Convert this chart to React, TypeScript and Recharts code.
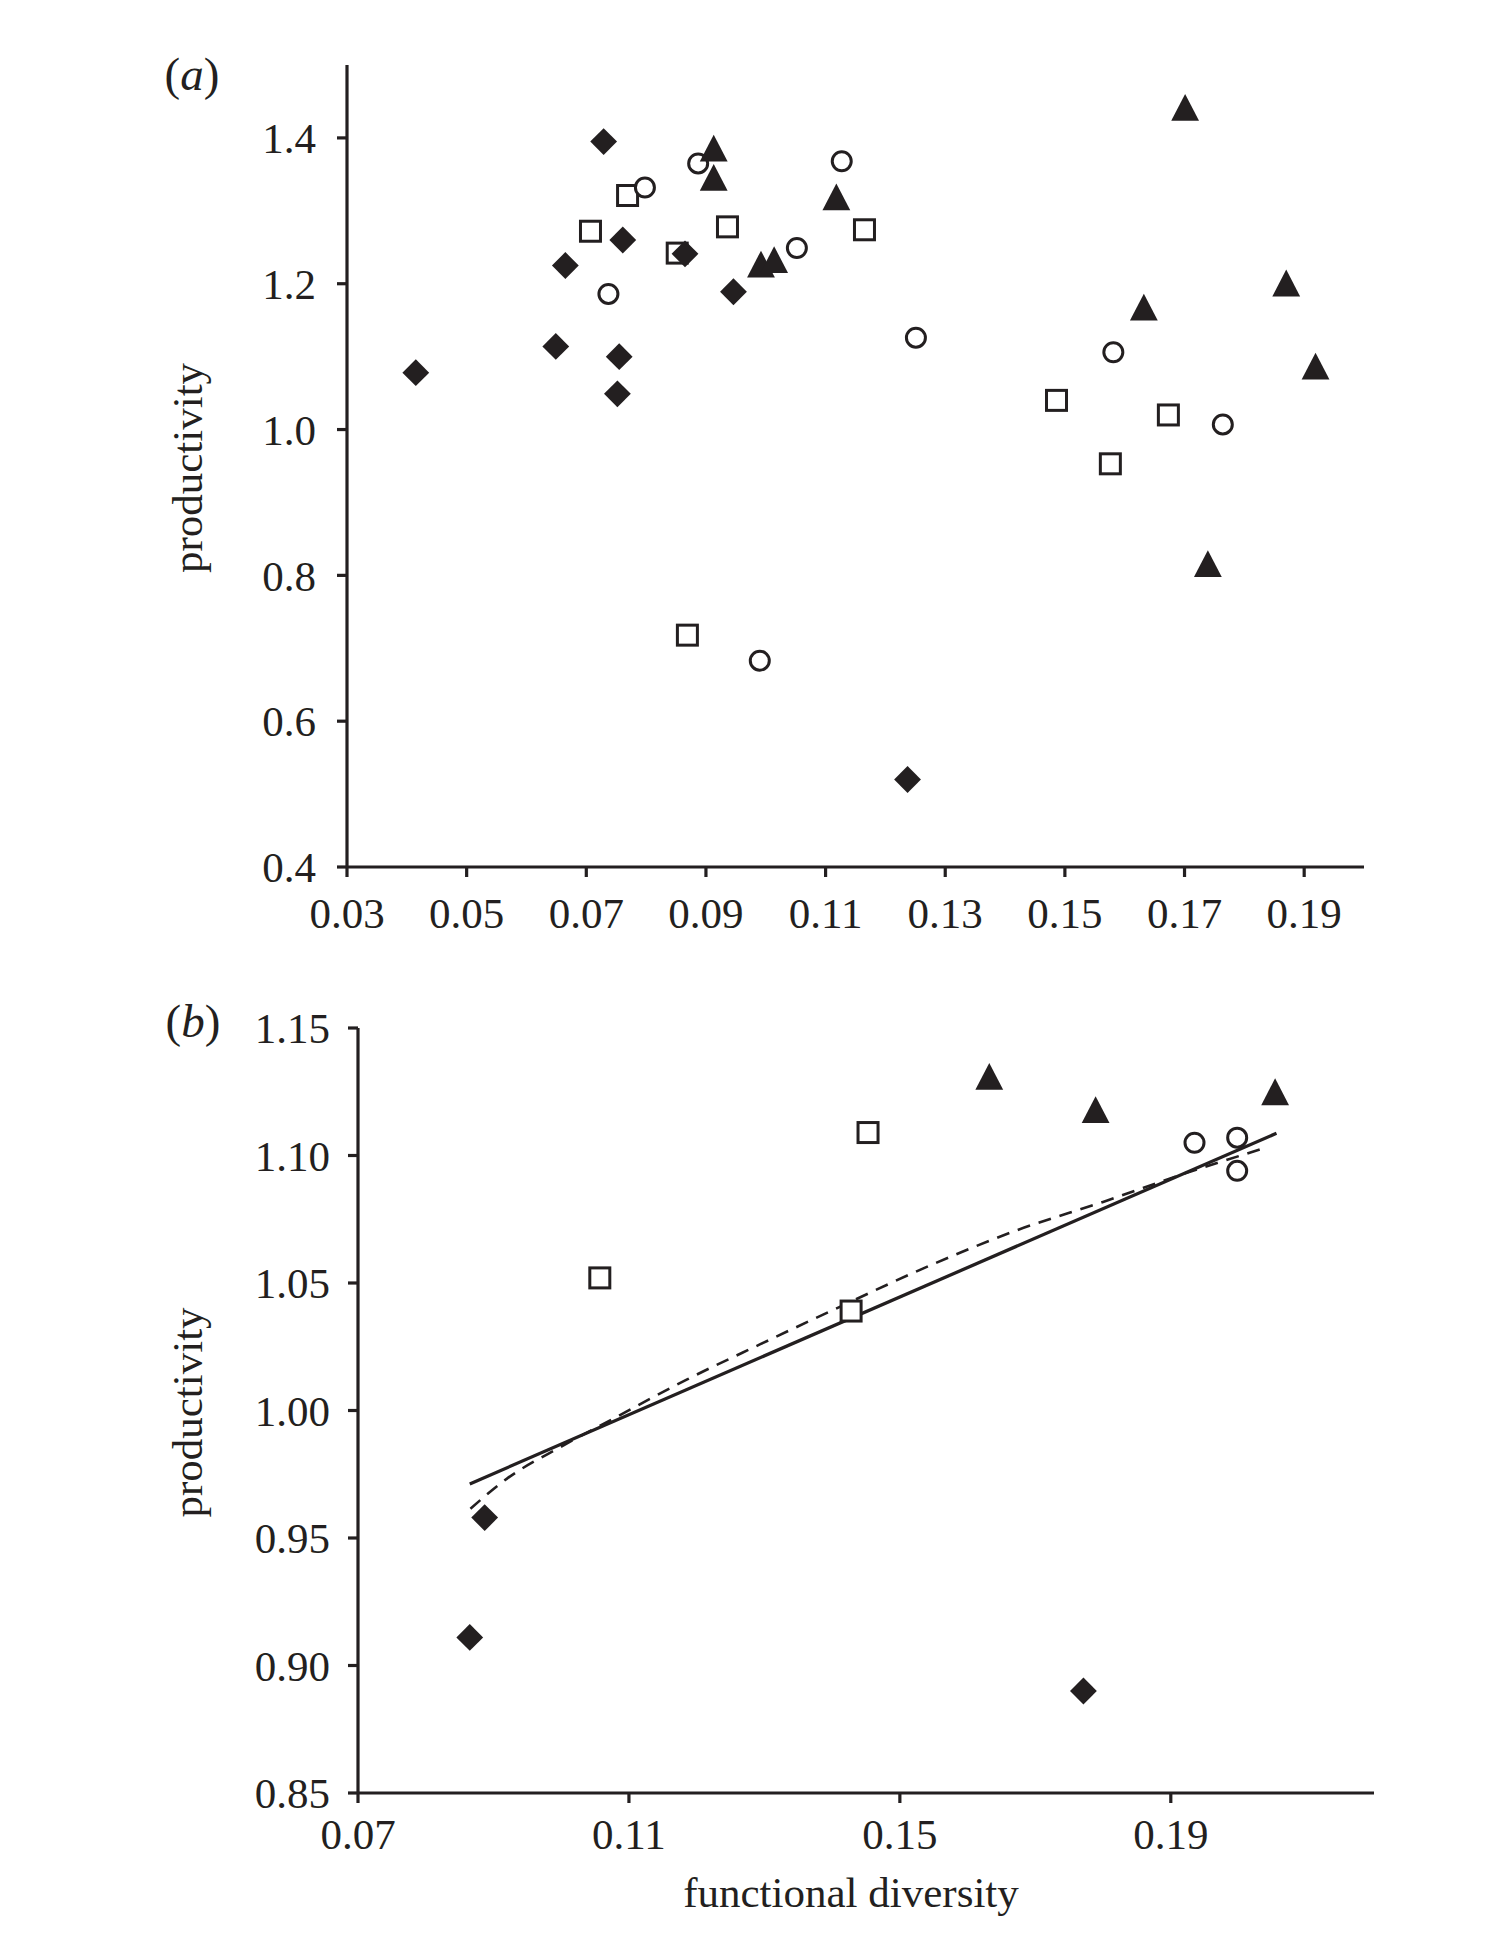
import React from "react";
import {
  ScatterChart,
  ComposedChart,
  Scatter,
  Line,
  XAxis,
  YAxis,
  Label,
} from "recharts";

const INK = "#231f20";
const FONT = '"Liberation Serif", "Times New Roman", Times, serif';

// ---- panel (a): all plots ----
const aXTicks = [0.03, 0.05, 0.07, 0.09, 0.11, 0.13, 0.15, 0.17, 0.19];
const aYTicks = [0.4, 0.6, 0.8, 1.0, 1.2, 1.4];

const aDiamondFd = [0.0415, 0.0649, 0.0665, 0.0729, 0.0752, 0.0755, 0.0761, 0.0865, 0.0946, 0.1237];
const aDiamondProd = [1.078, 1.114, 1.225, 1.395, 1.049, 1.1, 1.26, 1.241, 1.189, 0.52];

const aSquareFd = [0.0707, 0.0769, 0.0852, 0.0869, 0.0936, 0.1165, 0.1486, 0.1576, 0.1673];
const aSquareProd = [1.272, 1.321, 1.242, 0.718, 1.278, 1.274, 1.04, 0.953, 1.02];

const aCircleFd = [0.0737, 0.0798, 0.0887, 0.099, 0.1052, 0.1127, 0.1251, 0.1581, 0.1764];
const aCircleProd = [1.186, 1.332, 1.365, 0.683, 1.249, 1.368, 1.126, 1.106, 1.007];

const aTriangleFd = [0.0913, 0.0913, 0.0992, 0.1014, 0.1118, 0.1632, 0.1701, 0.1739, 0.187, 0.1919];
const aTriangleProd = [1.386, 1.346, 1.227, 1.233, 1.319, 1.168, 1.442, 0.816, 1.201, 1.087];

// ---- panel (b): treatment means ----
const bXTicks = [0.07, 0.11, 0.15, 0.19];
const bYTicks = [0.85, 0.9, 0.95, 1.0, 1.05, 1.1, 1.15];

const bDiamondFd = [0.0865, 0.0887, 0.1771];
const bDiamondProd = [0.911, 0.958, 0.89];

const bSquareFd = [0.1057, 0.1428, 0.1453];
const bSquareProd = [1.052, 1.039, 1.109];

const bTriangleFd = [0.1632, 0.1789, 0.2054];
const bTriangleProd = [1.131, 1.118, 1.125];

const bCircleFd = [0.1935, 0.1998, 0.1998];
const bCircleProd = [1.105, 1.107, 1.094];

// fitted lines: straight fit (solid) and curved fit (dashed)
const linearFd = [0.0865, 0.2056];
const linearProd = [0.9712, 1.1087];

const curveFd = [0.0866, 0.092, 0.0999, 0.1077, 0.1186, 0.1294, 0.1402, 0.155, 0.1673, 0.18, 0.1919, 0.2037];
const curveProd = [0.9615, 0.9733, 0.9857, 0.9968, 1.0122, 1.026, 1.0395, 1.0575, 1.0707, 1.0818, 1.0928, 1.1028];

const toPoints = (xs: number[], ys: number[]) => xs.map((x, i) => ({ x, y: ys[i] }));

// marker shapes
const Diamond = ({ cx, cy }: any) => (
  <path d={`M${cx},${cy - 13.4}L${cx + 13.4},${cy}L${cx},${cy + 13.4}L${cx - 13.4},${cy}Z`} fill={INK} />
);
const Square = ({ cx, cy }: any) => (
  <rect x={cx - 10} y={cy - 10} width={20} height={20} fill="#fff" stroke={INK} strokeWidth={3} />
);
const Circle = ({ cx, cy }: any) => (
  <circle cx={cx} cy={cy} r={9.5} fill="#fff" stroke={INK} strokeWidth={3} />
);
const Triangle = ({ cx, cy }: any) => (
  <path d={`M${cx},${cy - 13.4}L${cx + 13.9},${cy + 13.4}L${cx - 13.9},${cy + 13.4}Z`} fill={INK} />
);

const tickFont = { fill: INK, fontSize: 43, fontFamily: FONT };
const axisStroke = { stroke: INK, strokeWidth: 3.2 };
const titleProps = { fill: INK, fontSize: 43, fontFamily: FONT };

function PanelLetters() {
  return (
    <svg
      width={1488}
      height={1950}
      style={{ position: "absolute", left: 0, top: 0, pointerEvents: "none" }}
    >
      <text x={164.5} y={90} fontSize={47} fontFamily={FONT} fill={INK}>
        (<tspan fontStyle="italic">a</tspan>)
      </text>
      <text x={165.5} y={1037} fontSize={47} fontFamily={FONT} fill={INK}>
        (<tspan fontStyle="italic">b</tspan>)
      </text>
    </svg>
  );
}

function AllPlots() {
  return (
    <ScatterChart width={1488} height={960} margin={{ top: 65, right: 124, bottom: 23, left: 247 }}>
      <XAxis
        type="number"
        dataKey="x"
        domain={[0.03, 0.2]}
        ticks={aXTicks}
        interval={0}
        allowDataOverflow
        tickFormatter={(v: number) => v.toFixed(2)}
        axisLine={axisStroke}
        tickLine={axisStroke}
        tickSize={10}
        tickMargin={20}
        tick={tickFont}
        height={70}
      />
      <YAxis
        type="number"
        dataKey="y"
        domain={[0.4, 1.5]}
        ticks={aYTicks}
        interval={0}
        allowDataOverflow
        tickFormatter={(v: number) => v.toFixed(1)}
        axisLine={axisStroke}
        tickLine={axisStroke}
        tickSize={10}
        tickMargin={21}
        tick={tickFont}
        width={100}
      >
        <Label value="productivity" position="center" angle={-90} dx={-110} dy={2} {...titleProps} />
      </YAxis>
      <Scatter data={toPoints(aSquareFd, aSquareProd)} shape={Square} isAnimationActive={false} />
      <Scatter data={toPoints(aCircleFd, aCircleProd)} shape={Circle} isAnimationActive={false} />
      <Scatter data={toPoints(aDiamondFd, aDiamondProd)} shape={Diamond} isAnimationActive={false} />
      <Scatter data={toPoints(aTriangleFd, aTriangleProd)} shape={Triangle} isAnimationActive={false} />
    </ScatterChart>
  );
}

function MeansPlot() {
  return (
    <ComposedChart width={1488} height={990} margin={{ top: 68, right: 114, bottom: 27, left: 258 }}>
      <XAxis
        type="number"
        dataKey="x"
        domain={[0.07, 0.22]}
        ticks={bXTicks}
        interval={0}
        allowDataOverflow
        tickFormatter={(v: number) => v.toFixed(2)}
        axisLine={axisStroke}
        tickLine={axisStroke}
        tickSize={10}
        tickMargin={15}
        tick={tickFont}
        height={130}
      >
        <Label value="functional diversity" position="insideBottom" offset={16} dx={-15} {...titleProps} />
      </XAxis>
      <YAxis
        type="number"
        dataKey="y"
        domain={[0.85, 1.15]}
        ticks={bYTicks}
        interval={0}
        allowDataOverflow
        tickFormatter={(v: number) => v.toFixed(2)}
        axisLine={axisStroke}
        tickLine={axisStroke}
        tickSize={10}
        tickMargin={18}
        tick={tickFont}
        width={100}
      >
        <Label value="productivity" position="center" angle={-90} dx={-121} dy={2} {...titleProps} />
      </YAxis>
      <Line
        data={toPoints(curveFd, curveProd)}
        dataKey="y"
        type="monotone"
        stroke={INK}
        strokeWidth={2.6}
        strokeDasharray="13 9"
        dot={false}
        activeDot={false}
        isAnimationActive={false}
      />
      <Line
        data={toPoints(linearFd, linearProd)}
        dataKey="y"
        type="linear"
        stroke={INK}
        strokeWidth={3.3}
        dot={false}
        activeDot={false}
        isAnimationActive={false}
      />
      <Scatter data={toPoints(bSquareFd, bSquareProd)} dataKey="y" shape={Square} isAnimationActive={false} />
      <Scatter data={toPoints(bCircleFd, bCircleProd)} dataKey="y" shape={Circle} isAnimationActive={false} />
      <Scatter data={toPoints(bDiamondFd, bDiamondProd)} dataKey="y" shape={Diamond} isAnimationActive={false} />
      <Scatter data={toPoints(bTriangleFd, bTriangleProd)} dataKey="y" shape={Triangle} isAnimationActive={false} />
    </ComposedChart>
  );
}

export default function App() {
  return (
    <div
      style={{
        position: "absolute",
        left: 0,
        top: 0,
        width: 1488,
        height: 1950,
        background: "#fff",
        fontFamily: FONT,
      }}
    >
      <div style={{ position: "absolute", left: 0, top: 0 }}>
        <AllPlots />
      </div>
      <div style={{ position: "absolute", left: 0, top: 960 }}>
        <MeansPlot />
      </div>
      <PanelLetters />
    </div>
  );
}
